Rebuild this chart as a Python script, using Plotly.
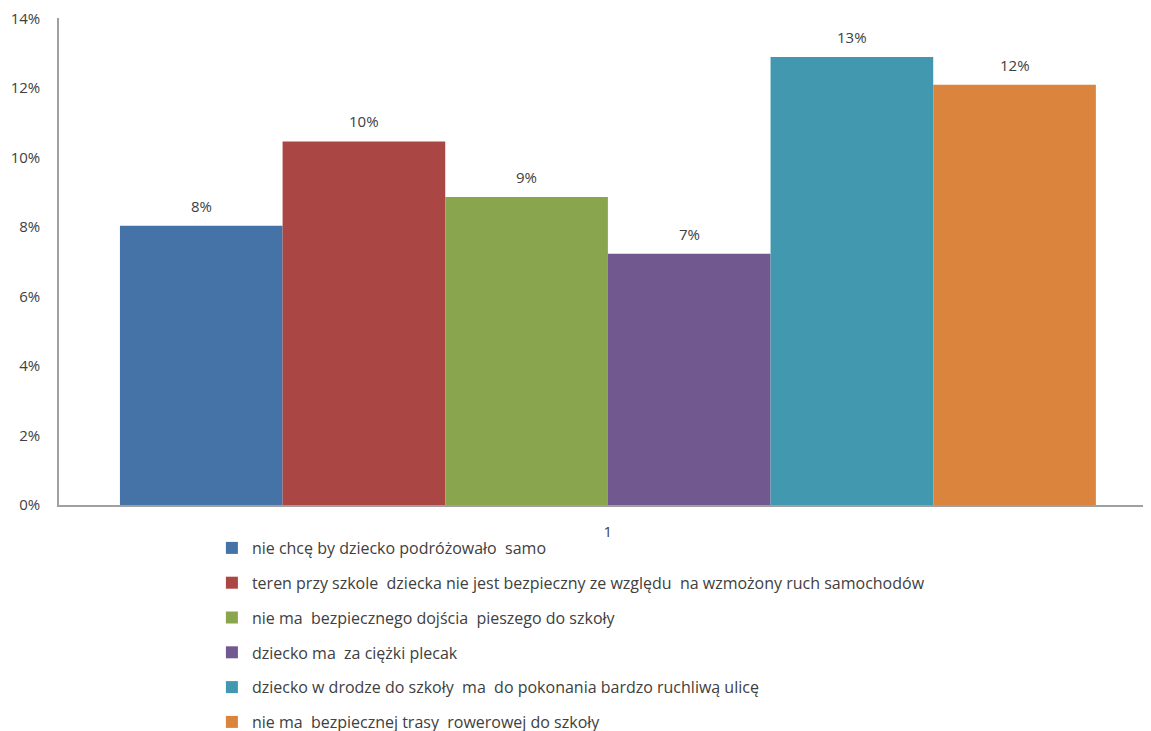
import plotly.graph_objects as go

categories = ["1"]
series_names = [
    "nie chcę by dziecko podróżowało  samo",
    "teren przy szkole  dziecka nie jest bezpieczny ze względu  na wzmożony ruch samochodów",
    "nie ma  bezpiecznego dojścia  pieszego do szkoły",
    "dziecko ma  za ciężki plecak",
    "dziecko w drodze do szkoły  ma  do pokonania bardzo ruchliwą ulicę",
    "nie ma  bezpiecznej trasy  rowerowej do szkoły",
]
series_values = [0.0803, 0.1046, 0.0886, 0.0723, 0.1289, 0.1209]
colors = ["#4572A7", "#AA4643", "#89A54E", "#71588F", "#4198AF", "#DB843D"]
y_ticks = [0, 0.02, 0.04, 0.06, 0.08, 0.10, 0.12, 0.14]

FONT = "'Open Sans', sans-serif"
TXT = "#404040"
BARGAP = 0.111

fig = go.Figure()
n = len(series_values)
for i, (name, val, col) in enumerate(zip(series_names, series_values, colors)):
    fig.add_trace(go.Bar(
        x=categories, y=[val], name=name,
        marker=dict(color=col, line=dict(width=0)),
        legendgroup=f"g{i}",
    ))
    # value label above each bar, placed at that bar's slot in the group
    w = (1 - BARGAP) / n
    xpos = -(1 - BARGAP) / 2 + (i + 0.5) * w
    fig.add_annotation(
        x=xpos, y=val, xref="x", yref="y", text=f"{val:.0%}",
        showarrow=False, yanchor="bottom", yshift=8,
        font=dict(family=FONT, size=15, color=TXT),
    )

fig.update_layout(
    width=1151, height=731,
    margin=dict(l=51, r=0, t=10, b=234, autoexpand=False),
    paper_bgcolor="white", plot_bgcolor="white",
    barmode="group", bargap=BARGAP, bargroupgap=0,
    font=dict(family=FONT, size=15, color=TXT),
    showlegend=True,
    legend=dict(
        orientation="v", x=0.139, y=0, yref="container",
        xanchor="left", yanchor="bottom", bgcolor="rgba(0,0,0,0)",
        font=dict(family=FONT, size=16, color=TXT),
        tracegroupgap=11, traceorder="grouped",
        itemwidth=30,
    ),
    xaxis=dict(
        type="category", range=[-0.5, 0.502], automargin=False,
        showline=True, linecolor="#A0A0A0", linewidth=1.5,
        ticks="", showgrid=False, ticklabelstandoff=12,
        tickfont=dict(family=FONT, size=15, color=TXT),
    ),
    yaxis=dict(
        range=[0, 0.1401], tickvals=y_ticks, tickformat=".0%", automargin=False,
        ticklabeloverflow="allow",
        showline=True, linecolor="#A0A0A0", linewidth=1.5,
        showgrid=False, zeroline=False, ticks="", ticklabelstandoff=14,
        tickfont=dict(family=FONT, size=15, color=TXT),
    ),
)

fig.write_html("out.html")
